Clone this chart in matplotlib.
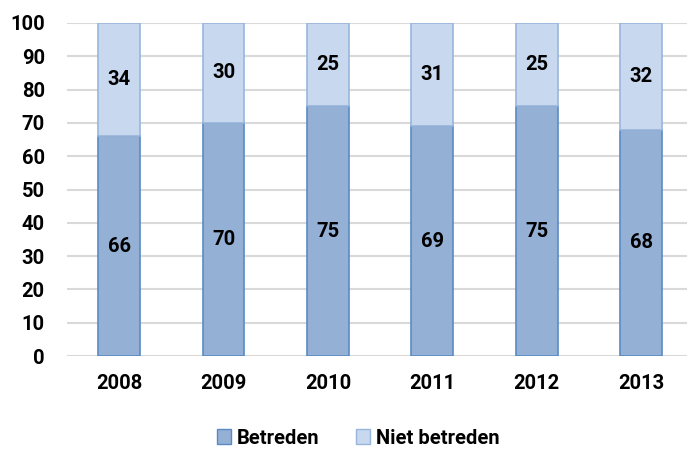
import matplotlib
matplotlib.use("Agg")
import matplotlib.pyplot as plt
from matplotlib.patches import Patch

years = ["2008", "2009", "2010", "2011", "2012", "2013"]
betreden = [66, 70, 75, 69, 75, 68]
niet_betreden = [34, 30, 25, 31, 25, 32]

plt.rcParams["font.family"] = ["Roboto", "DejaVu Sans"]
plt.rcParams["font.weight"] = "bold"

fig = plt.figure(figsize=(6.87, 4.51), dpi=100)
ax = fig.add_axes([67 / 687, (451 - 356) / 451, 620 / 687, 333 / 451])

x = range(len(years))
low_color, low_edge = "#95B0D5", "#5A8AC4"
high_color, high_edge = "#C8D8EE", "#98B6DB"

ax.bar(x, betreden, width=0.4, color=low_color, edgecolor=low_edge, linewidth=1.2, zorder=3)
ax.bar(x, niet_betreden, width=0.4, bottom=betreden, color=high_color,
       edgecolor=high_edge, linewidth=1.2, zorder=3)

# value labels in the middle of each segment
fs = 14.5
for i, (b, n) in enumerate(zip(betreden, niet_betreden)):
    ax.text(i, b / 2, str(b), ha="center", va="center", fontsize=fs, fontweight="bold", zorder=4)
    ax.text(i, b + n / 2, str(n), ha="center", va="center", fontsize=fs, fontweight="bold", zorder=4)

ax.set_ylim(0, 100)
ax.set_xlim(-0.5, 5.44)
ax.set_yticks(range(0, 101, 10))
ax.set_xticks(list(x))
ax.set_xticklabels(years)
ax.tick_params(axis="both", length=0, labelsize=fs)
for lbl in ax.get_xticklabels() + ax.get_yticklabels():
    lbl.set_fontweight("bold")
ax.tick_params(axis="x", pad=13)
ax.tick_params(axis="y", pad=16)
ax.yaxis.grid(True, color="#D9D9D9", linewidth=1.5, zorder=0)
for s in ax.spines.values():
    s.set_visible(False)

handles = [Patch(facecolor=low_color, edgecolor=low_edge, label="Betreden"),
           Patch(facecolor=high_color, edgecolor=high_edge, label="Niet betreden")]
fig.legend(handles=handles, loc="center", bbox_to_anchor=(358 / 687, 1 - 438 / 451),
           ncol=2, frameon=False, prop={"size": fs, "weight": "bold"},
           handlelength=0.7, handleheight=0.7, handletextpad=0.3, columnspacing=1.8)

fig.savefig("out.png", dpi=100)
